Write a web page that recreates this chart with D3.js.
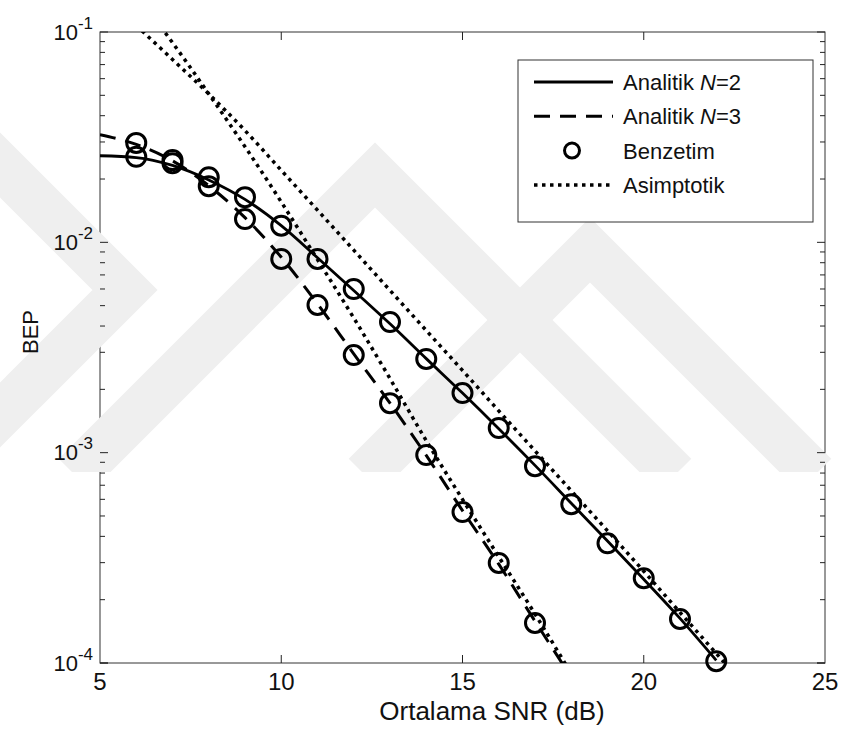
<!DOCTYPE html>
<html>
<head>
<meta charset="utf-8">
<script src="https://cdn.jsdelivr.net/npm/d3@7"></script>
<style>
  html, body { margin: 0; padding: 0; background: #fff; }
  svg { display: block; font-family: "Liberation Sans", Arial, Helvetica, sans-serif; }
</style>
</head>
<body>
<svg id="chart" width="843" height="736"></svg>
<script>
// Average SNR (dB) grid for the analytic curves
const snrAnalytic = [5, 6, 7, 8, 9, 10, 11, 12, 13, 14, 15, 16, 17, 18, 19, 20, 21, 22];
// Analytic BEP, N = 2
const bepAnalyticN2 = [0.0258, 0.0253, 0.0232, 0.0198, 0.0160, 0.0120, 0.00845, 0.00590, 0.00410,
  0.00280, 0.00192, 0.00130, 0.000870, 0.000575, 0.000380, 0.000250, 0.000163, 0.000103];
// Analytic BEP, N = 3
const snrAnalyticN3 = [5, 6, 7, 8, 9, 10, 11, 12, 13, 14, 15, 16, 17, 18];
const bepAnalyticN3 = [0.0325, 0.0292, 0.0244, 0.0186, 0.0131, 0.0085, 0.0051, 0.00295, 0.00172,
  0.00097, 0.00053, 0.000295, 0.000158, 0.0000855];

// Simulation results
const snrSimN2 = [6, 7, 8, 9, 10, 11, 12, 13, 14, 15, 16, 17, 18, 19, 20, 21, 22];
const bepSimN2 = [0.0255, 0.0238, 0.0204, 0.0164, 0.0120, 0.00834, 0.0060, 0.00418, 0.00279,
  0.00192, 0.00131, 0.000863, 0.000569, 0.000371, 0.000253, 0.000162, 0.000102];
const snrSimN3 = [6, 7, 8, 9, 10, 11, 12, 13, 14, 15, 16, 17];
const bepSimN3 = [0.0297, 0.0246, 0.0185, 0.0129, 0.00834, 0.00504, 0.00291, 0.00172,
  0.000975, 0.000522, 0.000299, 0.000155];

// Asymptotic (high-SNR) approximations
const snrAsymN2 = [6, 7, 8, 9, 10, 11, 12, 13, 14, 15, 16, 17, 18, 19, 20, 21, 22, 23];
const bepAsymN2 = [0.1074, 0.0740, 0.0508, 0.0340, 0.0220, 0.01422, 0.00918, 0.00591, 0.00381,
  0.00246, 0.00158, 0.00102, 0.000659, 0.000425, 0.000273, 0.000174, 0.000111, 0.0000705];
const snrAsymN3 = [6, 7, 8, 9, 10, 11, 12, 13, 14, 15, 16, 17, 18];
const bepAsymN3 = [0.150, 0.0890, 0.0508, 0.0285, 0.01556, 0.00828, 0.00437, 0.00225, 0.00114,
  0.000600, 0.000320, 0.000171, 0.0000890];

// Axis ticks and labels
const xTicks = [5, 10, 15, 20, 25];
const yDecades = [-1, -2, -3, -4];
const legendLabels = [
  { pre: "Analitik ", it: "N", post: "=2", kind: "solid" },
  { pre: "Analitik ", it: "N", post: "=3", kind: "dashed" },
  { pre: "Benzetim", it: "", post: "", kind: "marker" },
  { pre: "Asimptotik", it: "", post: "", kind: "dotted" }
];

const svg = d3.select("#chart");
const plot = { left: 100, top: 32, right: 825, bottom: 663 };

const x = d3.scaleLinear().domain([5, 25]).range([plot.left, plot.right]);
const y = d3.scaleLog().domain([1e-4, 1e-1]).range([plot.bottom, plot.top]);

const defs = svg.append("defs");
defs.append("clipPath").attr("id", "plotClip")
  .append("rect")
  .attr("x", plot.left).attr("y", plot.top)
  .attr("width", plot.right - plot.left).attr("height", plot.bottom - plot.top);
defs.append("clipPath").attr("id", "markClip")
  .append("rect").attr("x", 0).attr("y", 101).attr("width", 843).attr("height", 371);

// Frame
svg.append("rect")
  .attr("x", plot.left).attr("y", plot.top)
  .attr("width", plot.right - plot.left).attr("height", plot.bottom - plot.top)
  .attr("fill", "#fff").attr("stroke", "#333").attr("stroke-width", 1);

// Faint chevron emblem behind the data
const emblem = svg.append("g").attr("clip-path", "url(#markClip)")
  .attr("fill", "none").attr("stroke", "#efefef").attr("stroke-width", 46)
  .attr("stroke-linejoin", "miter").attr("stroke-miterlimit", 10);
emblem.append("polyline").attr("points", "-200,-35 125,290 -200,615");
emblem.append("polyline").attr("points", "75,475 375,175 675,475");
emblem.append("polyline").attr("points", "365,475 590,250 815,475");

// Ticks (inward, on all four sides)
const tickG = svg.append("g").attr("stroke", "#222").attr("stroke-width", 1);
xTicks.slice(1, -1).forEach(v => {
  tickG.append("line").attr("x1", x(v)).attr("x2", x(v)).attr("y1", plot.bottom).attr("y2", plot.bottom - 8);
  tickG.append("line").attr("x1", x(v)).attr("x2", x(v)).attr("y1", plot.top).attr("y2", plot.top + 8);
});
yDecades.forEach(d => {
  for (let m = 1; m <= 9; m++) {
    const v = m * Math.pow(10, d - 1);
    if (v < 1e-4 * 0.999 || v > 1e-1 * 1.001) continue;
    const len = m === 1 ? 8 : 5;
    tickG.append("line").attr("x1", plot.left).attr("x2", plot.left + len).attr("y1", y(v)).attr("y2", y(v));
    tickG.append("line").attr("x1", plot.right).attr("x2", plot.right - len).attr("y1", y(v)).attr("y2", y(v));
  }
});
[-1, -4].forEach(d => {
  tickG.append("line").attr("x1", plot.left).attr("x2", plot.left + 8).attr("y1", y(Math.pow(10, d))).attr("y2", y(Math.pow(10, d)));
  tickG.append("line").attr("x1", plot.right).attr("x2", plot.right - 8).attr("y1", y(Math.pow(10, d))).attr("y2", y(Math.pow(10, d)));
});

// X tick labels
svg.append("g").selectAll("text").data(xTicks).join("text")
  .attr("x", d => x(d)).attr("y", 690)
  .attr("text-anchor", "middle").attr("font-size", 24).attr("fill", "#111")
  .text(d => d);

// Y tick labels: 10^d
const yLab = svg.append("g").selectAll("text").data(yDecades).join("text")
  .attr("x", 93).attr("y", d => y(Math.pow(10, d)) + 7.5)
  .attr("text-anchor", "end").attr("fill", "#111");
yLab.append("tspan").attr("font-size", 22).text("10");
yLab.append("tspan").attr("font-size", 17).attr("dy", -11).text(d => String(d));

// Axis titles
svg.append("text").attr("x", 492).attr("y", 720).attr("text-anchor", "middle")
  .attr("font-size", 26).attr("fill", "#111").text("Ortalama SNR (dB)");
svg.append("text").attr("transform", "translate(38,332) rotate(-90)")
  .attr("text-anchor", "middle").attr("font-size", 22).attr("fill", "#111").text("BEP");

// Curves
const lineGen = d3.line().x(d => x(d[0])).y(d => y(d[1])).curve(d3.curveMonotoneX);
const zip = (a, b) => a.map((v, i) => [v, b[i]]);
const curves = svg.append("g").attr("clip-path", "url(#plotClip)").attr("fill", "none").attr("stroke", "#000");

curves.append("path").attr("d", lineGen(zip(snrAsymN2, bepAsymN2)))
  .attr("stroke-width", 3.5).attr("stroke-dasharray", "3.5,4.5");
curves.append("path").attr("d", lineGen(zip(snrAsymN3, bepAsymN3)))
  .attr("stroke-width", 3.5).attr("stroke-dasharray", "3.5,4.5");
curves.append("path").attr("d", lineGen(zip(snrAnalytic, bepAnalyticN2)))
  .attr("stroke-width", 2.8);
curves.append("path").attr("d", lineGen(zip(snrAnalyticN3, bepAnalyticN3)))
  .attr("stroke-width", 3).attr("stroke-dasharray", "16,10");

// Simulation markers (not clipped, as they sit on the frame at the ends)
const markers = svg.append("g").attr("fill", "none").attr("stroke", "#000").attr("stroke-width", 3);
markers.selectAll("circle.n2").data(zip(snrSimN2, bepSimN2)).join("circle").attr("class", "n2")
  .attr("cx", d => x(d[0])).attr("cy", d => y(d[1])).attr("r", 9.5);
markers.selectAll("circle.n3").data(zip(snrSimN3, bepSimN3)).join("circle").attr("class", "n3")
  .attr("cx", d => x(d[0])).attr("cy", d => y(d[1])).attr("r", 9.5);

// Legend
const lg = svg.append("g");
lg.append("rect").attr("x", 518).attr("y", 60).attr("width", 295).attr("height", 162)
  .attr("fill", "#fff").attr("stroke", "#333").attr("stroke-width", 1);
const rowY = i => 82 + i * 34.3;
legendLabels.forEach((e, i) => {
  const yy = rowY(i);
  if (e.kind === "marker") {
    lg.append("circle").attr("cx", 572).attr("cy", yy).attr("r", 7.5)
      .attr("fill", "none").attr("stroke", "#000").attr("stroke-width", 3);
  } else {
    const ln = lg.append("line").attr("x1", 534).attr("x2", 613).attr("y1", yy).attr("y2", yy)
      .attr("stroke", "#000");
    if (e.kind === "solid") ln.attr("stroke-width", 2.8);
    if (e.kind === "dashed") ln.attr("stroke-width", 3).attr("stroke-dasharray", "16,10");
    if (e.kind === "dotted") ln.attr("stroke-width", 3.5).attr("stroke-dasharray", "3.5,4.5");
  }
  const t = lg.append("text").attr("x", 623).attr("y", yy + 8).attr("font-size", 22).attr("fill", "#111");
  t.append("tspan").text(e.pre);
  if (e.it) t.append("tspan").attr("font-style", "italic").text(e.it);
  if (e.post) t.append("tspan").text(e.post);
});
</script>
</body>
</html>
